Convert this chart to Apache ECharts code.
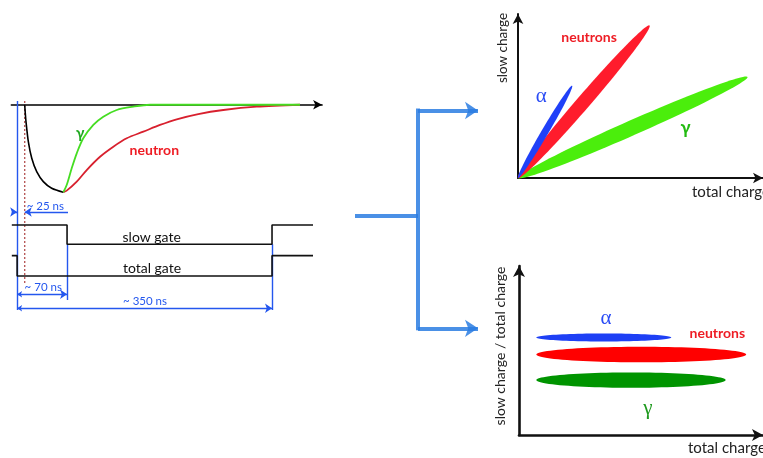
<!DOCTYPE html>
<html><head><meta charset="utf-8">
<script src="https://cdn.jsdelivr.net/npm/echarts@6/dist/echarts.min.js"></script>
<style>html,body{margin:0;padding:0;background:#fff}#c{width:763px;height:458px}</style>
</head><body><div id="c"></div>
<script>
// ---------- Left panel: pulse shapes (time in ns, amplitude relative to peak) ----------
const pulseRise   = [[10.4,0],[11.1,-0.083],[12.2,-0.194],[15.4,-0.422],[20.1,-0.612],[26.9,-0.765],[36.0,-0.879],[47.5,-0.955],[63.5,-1.0]];
const gammaTail   = [[63.5,-1],[68.1,-0.917],[75.0,-0.726],[81.9,-0.555],[90.9,-0.383],[104.7,-0.231],[118.4,-0.137],[136.8,-0.06],[159.6,-0.022],[182.6,0],[388.6,0]];
const neutronTail = [[63.5,-1],[68.1,-0.982],[81.9,-0.879],[95.6,-0.746],[113.9,-0.594],[132.2,-0.479],[150.6,-0.383],[173.4,-0.308],[196.3,-0.231],[219.3,-0.166],[248.9,-0.106],[283.3,-0.06],[329.2,-0.022],[388.6,0]];
// gate waveforms (same time axis, levels below the pulse)
const slowGate  = [[-7.3,-1.374],[68.6,-1.374],[68.6,-1.595],[350.2,-1.595],[350.2,-1.374],[406.5,-1.374]];
const totalGate = [[-7.3,-1.725],[0,-1.725],[0,-1.957],[350.2,-1.957],[350.2,-1.725],[406.5,-1.725]];
const markerLines = [[[0,0.043],[0,-2.346]],[[68.6,-1.595],[68.6,-2.231]],[[350.2,-1.595],[350.2,-2.346]]];
const pulseStartLine = [[10.4,0.043],[10.4,-2.037]];
const oneSidedArrows = [[[-7.3,-1.226],[0,-1.226]],[[69.9,-1.226],[10.4,-1.226]]];
const twoSidedArrows = [[[0,-2.166],[68.6,-2.166]],[[0,-2.326],[350.2,-2.326]]];
const pulseLabels = [[86.5,-0.326,'γ'],[188.5,-0.525,'neutron']];
const gateLabels  = [[184.9,-1.512,'slow gate'],[185.3,-1.877,'total gate']];
const dimLabels   = [[38.8,-1.16,'~ 25 ns'],[35.9,-2.09,'~ 70 ns'],[175.7,-2.25,'~ 350 ns']];
// ---------- Flow connector (diagram units) ----------
const flowTrunk = [[15,126],[78,126]];
const flowSpine = [[78,18.5],[78,240.3]];
const flowBranches = [[[78,20.5],[138,20.5]],[[78,238.3],[138,238.3]]];
// ---------- Top right: slow charge vs total charge (start x,y -> end x,y) ----------
const scatterAlpha    = [0,0,2.21,5.63];
const scatterNeutrons = [0,0,5.37,9.30];
const scatterGamma    = [0,0,9.37,6.16];
const scatterLabels = [[0.95,4.98,'α'],[2.9,8.56,'neutrons'],[6.84,3.05,'γ']];
// ---------- Bottom right: slow/total ratio vs total charge ----------
const psdAlpha    = [0.71,0.577,6.24,0.577];
const psdNeutrons = [0.71,0.476,9.31,0.476];
const psdGamma    = [0.71,0.325,8.47,0.325];
const psdLabels = [[3.57,0.69,'α'],[8.13,0.602,'neutrons'],[5.28,0.154,'γ']];

// ---------- styles ----------
const FONT = 'Lato, "Noto Sans", sans-serif';
const BLUE_DIM = '#2457ee';
const FLOW = 'rgba(42,124,226,0.85)';
const lensWidth = {sAlpha:7, sNeutrons:13.5, sGamma:15, pAlpha:8, pNeutrons:15.6, pGamma:15.4};
const pulseLabelStyle = [{fill:'#20a820',font:'bold 15px '+FONT},{fill:'#ee1c24',font:'bold 14px '+FONT}];
const scatterLabelStyle = [{fill:'#2a4cf5',font:'21px "Liberation Serif", serif'},{fill:'#ee1c24',font:'bold 14px '+FONT},{fill:'#22bb11',font:'bold 18px '+FONT}];
const psdLabelStyle = [{fill:'#2a4cf5',font:'21px "Liberation Serif", serif'},{fill:'#ee1c24',font:'bold 14px '+FONT},{fill:'#1f9a1f',font:'21px "Liberation Serif", serif'}];

function lens(widthPx){
  return function(params, api){
    const a = api.coord([api.value(0), api.value(1)]);
    const b = api.coord([api.value(2), api.value(3)]);
    const cx=(a[0]+b[0])/2, cy=(a[1]+b[1])/2, dx=b[0]-a[0], dy=b[1]-a[1];
    const L=Math.hypot(dx,dy)/2, ux=dx/(2*L), uy=dy/(2*L), w=widthPx/2;
    const pts=[];
    for(let i=0;i<96;i++){const th=i/96*2*Math.PI,p=L*Math.cos(th),q=w*Math.sin(th);pts.push([cx+p*ux-q*uy, cy+p*uy+q*ux]);}
    return {type:'polygon', shape:{points:pts}, style:{fill:api.visual('color')}};
  };
}
function lensSeries(idx, vals, color, w){
  return {type:'custom', xAxisIndex:idx, yAxisIndex:idx, renderItem:lens(w), itemStyle:{color}, data:[vals], silent:true, clip:false};
}
function textSeries(idx, items, styleFn){
  return {type:'custom', xAxisIndex:idx, yAxisIndex:idx, silent:true, clip:false, z:10,
    data: items.map(d=>[d[0],d[1]]),
    renderItem:(params, api)=>{
      const p = api.coord([api.value(0), api.value(1)]);
      const st = styleFn(params.dataIndex);
      return {type:'text', x:p[0], y:p[1], style:Object.assign({text:items[params.dataIndex][2], align:'center', verticalAlign:'middle'}, st)};
    }};
}
function hiddenAxis(gi, min, max, inverse){
  return {type:'value', gridIndex:gi, min, max, inverse:!!inverse, axisLine:{show:false}, axisTick:{show:false}, axisLabel:{show:false}, splitLine:{show:false}};
}
function arrowAxis(gi, min, max, width, size){
  return {type:'value', gridIndex:gi, min, max, axisLine:{show:true, onZero:true, symbol:['none','arrow'], symbolSize:size, lineStyle:{color:'#111', width}}, axisTick:{show:false}, axisLabel:{show:false}, splitLine:{show:false}};
}
function line(data, color, width, extra){
  return Object.assign({type:'line', xAxisIndex:0, yAxisIndex:0, data, symbol:'none', silent:true, lineStyle:{color, width}, animation:false}, extra||{});
}
function lines(idx, segs, color, width, symbol, size){
  return {type:'lines', coordinateSystem:'cartesian2d', xAxisIndex:idx, yAxisIndex:idx, silent:true,
    data: segs.map(s=>({coords:s})), symbol, symbolSize:size, lineStyle:{color, width, opacity:1, curveness:0}, z:3};
}

const chart = echarts.init(document.getElementById('c'), null, {renderer:'canvas'});
chart.setOption({
  animation:false,
  backgroundColor:'#fff',
  grid:[
    {left:11.3, top:96, width:310.8, height:223.1},
    {left:340, top:90, width:160, height:250},
    {left:518, top:14, width:250, height:164},
    {left:519, top:266, width:250, height:169}
  ],
  xAxis:[
    {type:'value', gridIndex:0, min:-8, max:419, axisLine:{show:true, onZero:true, symbol:['none','arrow'], symbolSize:[7,9], lineStyle:{color:'#000', width:1.5}}, axisTick:{show:false}, axisLabel:{show:false}, splitLine:{show:false}},
    hiddenAxis(1, 0, 160),
    arrowAxis(2, 0, 10, 2, [8,10]),
    arrowAxis(3, 0, 10, 2.6, [9,11])
  ],
  yAxis:[
    {type:'value', gridIndex:0, min:-2.45, max:0.1, axisLine:{show:false}, axisTick:{show:false}, axisLabel:{show:false}, splitLine:{show:false}},
    hiddenAxis(1, 0, 250, true),
    arrowAxis(2, 0, 10, 2, [8,10]),
    arrowAxis(3, 0, 1, 2.6, [9,11])
  ],
  graphic:[
    {type:'text', x:503, y:48, rotation:Math.PI/2, style:{text:'slow charge', font:'13.5px '+FONT, fill:'#222', align:'center', verticalAlign:'middle'}},
    {type:'text', x:692, y:192, style:{text:'total charge', font:'15px '+FONT, fill:'#222', align:'left', verticalAlign:'middle'}},
    {type:'text', x:500, y:346, rotation:Math.PI/2, style:{text:'slow charge / total charge', font:'14px '+FONT, fill:'#222', align:'center', verticalAlign:'middle'}},
    {type:'text', x:688, y:448, style:{text:'total charge', font:'15px '+FONT, fill:'#222', align:'left', verticalAlign:'middle'}}
  ],
  series:[
    // left panel
    line(pulseStartLine, '#b85a5a', 1.4, {lineStyle:{color:'#b85a5a', width:1.4, type:[2,2]}}),
    lines(0, markerLines, BLUE_DIM, 1.4, ['none','none'], 1),
    line(slowGate, '#111', 1.6),
    line(totalGate, '#111', 1.6),
    line(neutronTail, '#d8202e', 1.8, {smooth:0.3, z:4}),
    line(gammaTail, '#45dd22', 1.8, {smooth:0.3, z:5}),
    line(pulseRise, '#000', 1.6, {smooth:0.3, z:4}),
    lines(0, oneSidedArrows, BLUE_DIM, 1.3, ['none','arrow'], [5,7]),
    lines(0, twoSidedArrows, BLUE_DIM, 1.3, ['arrow','arrow'], [5,7]),
    textSeries(0, pulseLabels, i=>pulseLabelStyle[i]),
    textSeries(0, gateLabels, ()=>({fill:'#111', font:'14px '+FONT})),
    textSeries(0, dimLabels, ()=>({fill:BLUE_DIM, font:'11.5px '+FONT})),
    // flow connector
    lines(1, [flowTrunk, flowSpine], FLOW, 4, ['none','none'], 1),
    lines(1, flowBranches, FLOW, 4, ['none','arrow'], [12,13]),
    // top right
    lensSeries(2, scatterGamma, '#4bee0c', lensWidth.sGamma),
    lensSeries(2, scatterNeutrons, '#ff1c2c', lensWidth.sNeutrons),
    lensSeries(2, scatterAlpha, '#2040f8', lensWidth.sAlpha),
    textSeries(2, scatterLabels, i=>scatterLabelStyle[i]),
    // bottom right
    lensSeries(3, psdGamma, '#009400', lensWidth.pGamma),
    lensSeries(3, psdNeutrons, '#ff0000', lensWidth.pNeutrons),
    lensSeries(3, psdAlpha, '#1e40f5', lensWidth.pAlpha),
    textSeries(3, psdLabels, i=>psdLabelStyle[i])
  ]
});
</script>
</body></html>
